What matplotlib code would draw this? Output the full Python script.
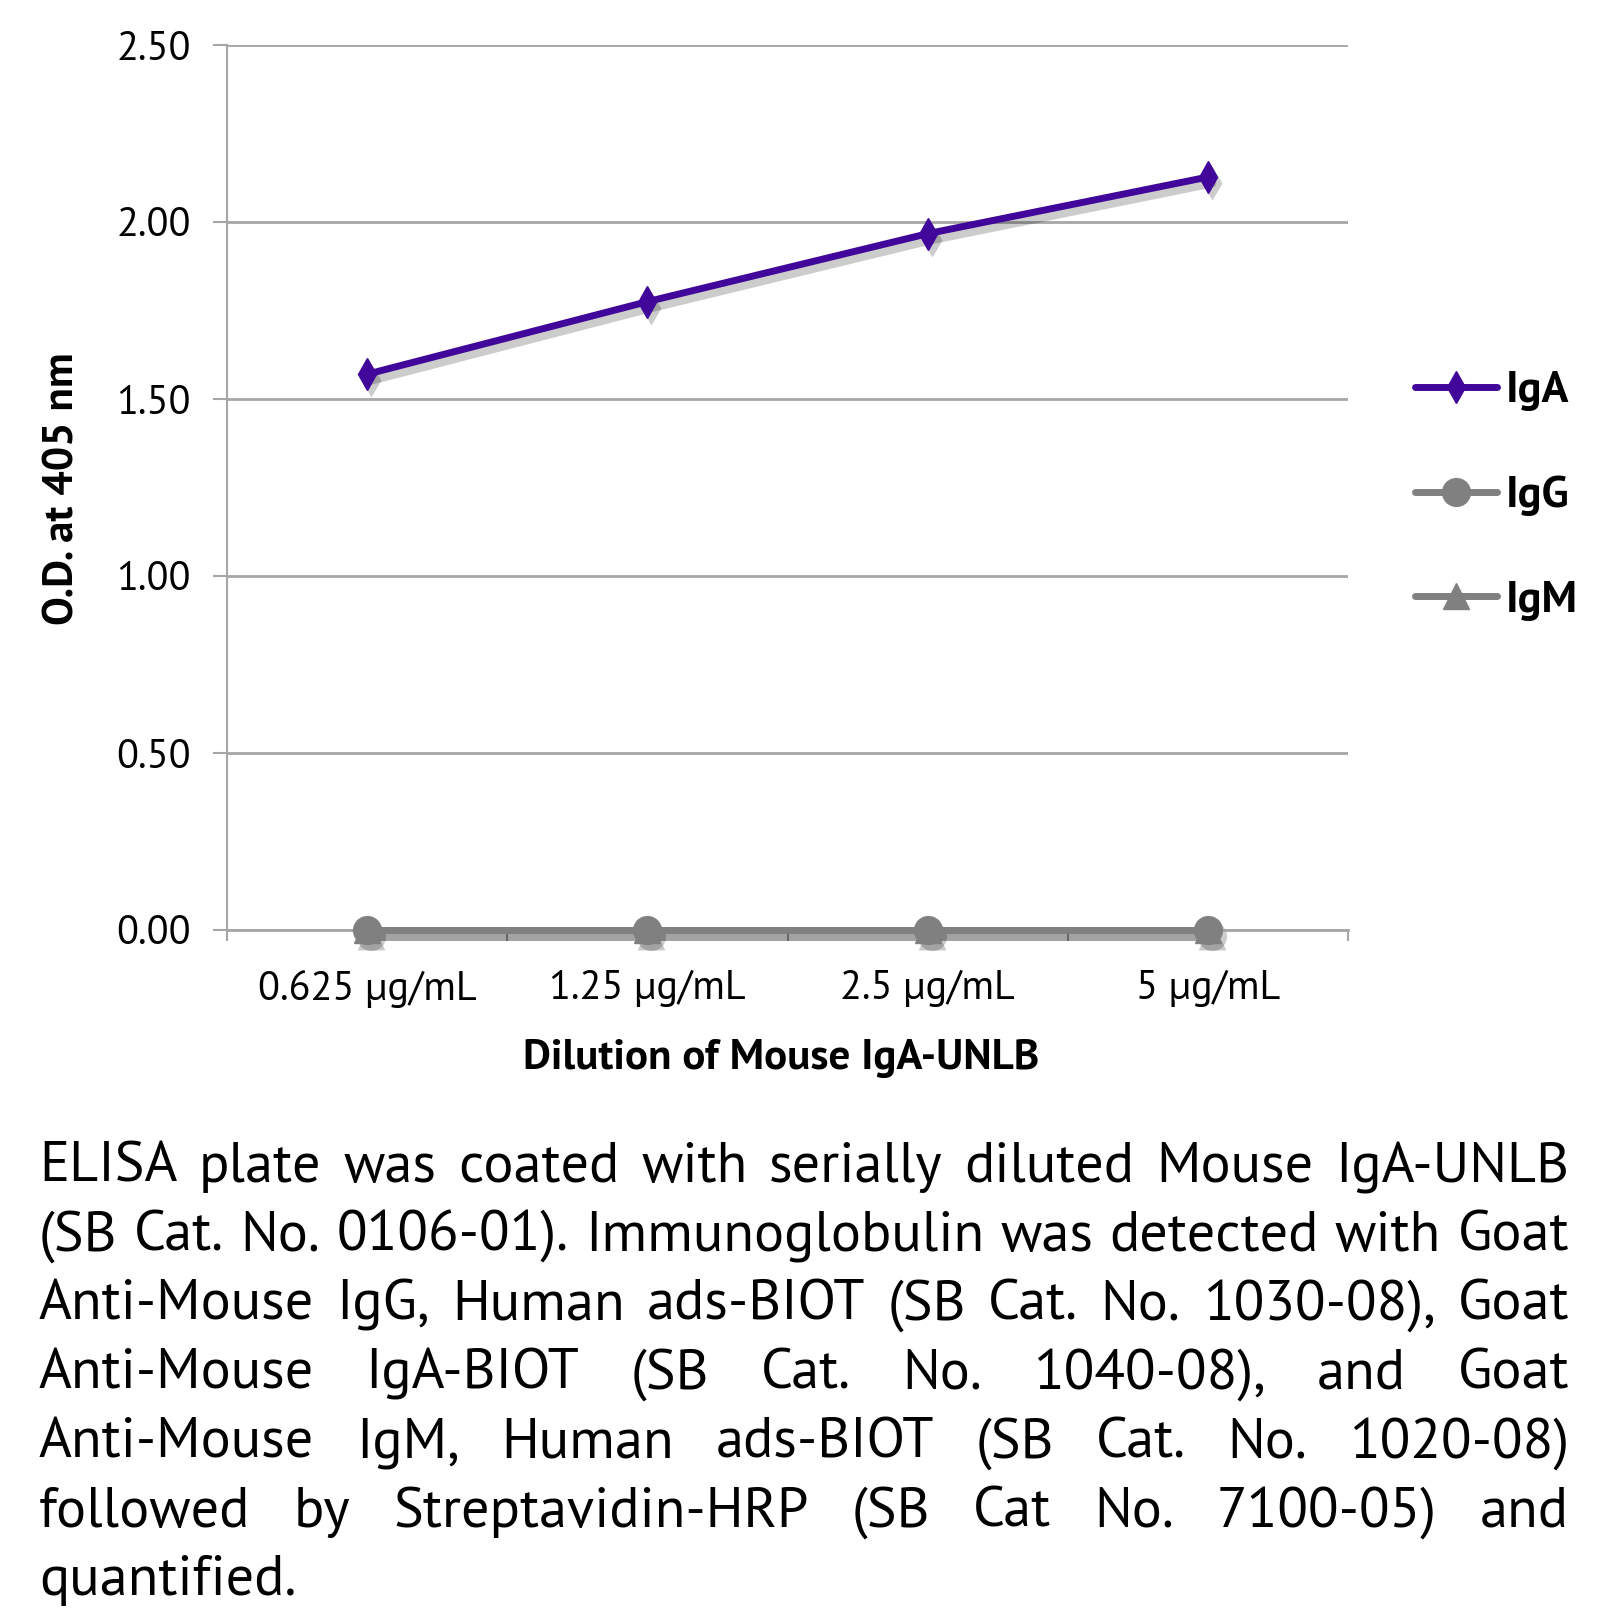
import matplotlib
matplotlib.use("Agg")
import matplotlib.pyplot as plt
from matplotlib import transforms
from matplotlib.ticker import FixedLocator

# ---- data ----
categories = ["0.625 µg/mL", "1.25 µg/mL", "2.5 µg/mL", "5 µg/mL"]
iga = [1.57, 1.775, 1.967, 2.127]
igg = [0.0, 0.0, 0.0, 0.0]
igm = [0.0, 0.0, 0.0, 0.0]
yticks = [0.0, 0.5, 1.0, 1.5, 2.0, 2.5]
caption_lines = [
    "ELISA plate was coated with serially diluted Mouse IgA-UNLB",
    "(SB Cat. No. 0106-01).  Immunoglobulin was detected with Goat",
    "Anti-Mouse IgG, Human ads-BIOT (SB Cat. No. 1030-08), Goat",
    "Anti-Mouse IgA-BIOT (SB Cat. No. 1040-08), and Goat",
    "Anti-Mouse IgM, Human ads-BIOT (SB Cat. No. 1020-08)",
    "followed by Streptavidin-HRP (SB Cat No. 7100-05) and",
    "quantified.",
]

FONT = ["PT Sans", "Open Sans", "DejaVu Sans"]
plt.rcParams['font.family'] = FONT

W, H = 1616, 1613
fig = plt.figure(figsize=(W / 100, H / 100), dpi=100)
L, R, T, B = 227, 1348, 45, 930
ax = fig.add_axes([L / W, 1 - B / H, (R - L) / W, (B - T) / H])

purple = "#40079a"
gray = "#808080"
grid_c = "#a6a6a6"
LW = 5

x = list(range(len(categories)))
sh = transforms.offset_copy(ax.transData, fig=fig, x=4, y=-6, units="dots")
series = [
    (igg, gray, "o", 20, "IgG", 3),
    (igm, gray, "^", 19, "IgM", 4),
    (iga, purple, "d", 16, "IgA", 5),
]
for vals, col, mk, ms, lab, z in series:
    ax.plot(x, vals, color="black", alpha=0.2, lw=LW + 1.5, marker=mk, ms=ms + 1,
            mec="none", transform=sh, zorder=2, solid_capstyle="round", clip_on=False)
    ax.plot(x, vals, color=col, lw=LW, marker=mk, ms=ms, mec=col, label=lab,
            solid_capstyle="round", zorder=z, clip_on=False)

ax.set_xlim(-0.5, len(categories) - 0.5)
ax.set_ylim(0, 2.5)
ax.set_yticks(yticks)
ax.set_yticklabels([f"{v:.2f}" for v in yticks])
ax.yaxis.grid(True, color=grid_c, lw=2)
ax.set_axisbelow(True)

ax.set_xticks(x)
ax.set_xticklabels(categories)
ax.xaxis.set_minor_locator(FixedLocator([i - 0.5 for i in range(len(categories) + 1)]))
ax.tick_params(axis="x", which="major", length=0, pad=29, labelsize=29)
ax.tick_params(axis="x", which="minor", length=8, width=1.5, color=grid_c, direction="out")
ax.tick_params(axis="y", length=10, width=1.5, color=grid_c, pad=16, labelsize=29)

for s in ["top", "right"]:
    ax.spines[s].set_visible(False)
ax.spines["left"].set_color(grid_c)
ax.spines["left"].set_linewidth(1.5)
ax.spines["bottom"].set_color(grid_c)
ax.spines["bottom"].set_linewidth(2)

fig.text(781 / W, 1 - 1058 / H, "Dilution of Mouse IgA-UNLB", ha="center", va="center",
         fontsize=31, fontweight="bold")
fig.text(63 / W, 1 - 489 / H, "O.D. at 405 nm", ha="center", va="center", rotation=90,
         fontsize=31, fontweight="bold")

handles, labels = ax.get_legend_handles_labels()
order = [2, 0, 1]
leg = fig.legend([handles[i] for i in order], [labels[i] for i in order],
                 loc="center left", bbox_to_anchor=(1393 / W, 1 - 496 / H),
                 frameon=False, handlelength=1.85, handletextpad=0.18, borderpad=0,
                 labelspacing=1.45, prop={"weight": "bold", "size": 32})

# ---- justified caption ----
fig.canvas.draw()
rend = fig.canvas.get_renderer()
x0, x1 = 39, 1569
base0, step = 1182, 68.9


def measure(s, fs):
    t = fig.text(0, 0, s, fontsize=fs)
    w = t.get_window_extent(rend).width
    t.remove()
    return w


fs = 46.0
while fs > 20:
    sp = measure("n n", fs) - 2 * measure("n", fs)
    ok = True
    for line in caption_lines[:-1]:
        words = line.split()
        nat = sum(measure(w, fs) for w in words) + sp * (len(words) - 1)
        if nat > x1 - x0:
            ok = False
            break
    if ok:
        break
    fs -= 0.5

sp = measure("n n", fs) - 2 * measure("n", fs)
for li, line in enumerate(caption_lines):
    words = line.split()
    yb = 1 - (base0 + li * step) / H
    texts = [fig.text(0, yb, w, fontsize=fs, va="baseline", ha="left") for w in words]
    widths = [t.get_window_extent(rend).width for t in texts]
    if li == len(caption_lines) - 1 or len(words) == 1:
        gap = sp
    else:
        gap = (x1 - x0 - sum(widths)) / (len(words) - 1)
    pos = x0
    for t, w in zip(texts, widths):
        t.set_x(pos / W)
        pos += w + gap

fig.savefig("out.png", dpi=100)
